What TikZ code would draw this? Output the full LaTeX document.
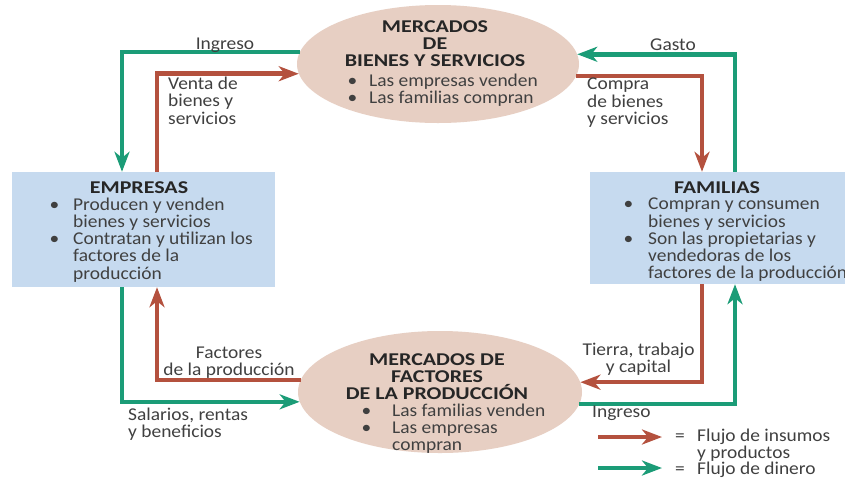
\documentclass[tikz,border=0pt]{standalone}
\usepackage{fontspec}
\setmainfont{Carlito}[FakeStretch=1.08]
\newfontfamily\headfont{Carlito}[FakeStretch=1.22]
\usetikzlibrary{arrows.meta,shapes.geometric}
\definecolor{flowgreen}{HTML}{1B9C77}
\definecolor{flowred}{HTML}{B4513E}
\definecolor{boxblue}{HTML}{C6DAEF}
\definecolor{ellbeige}{HTML}{E7CFC3}
\definecolor{txt}{HTML}{404040}
\definecolor{head}{HTML}{262626}
\newcommand{\bul}[1]{\makebox[#1][l]{\textbullet}}
\newcommand{\ind}[1]{\hspace*{#1}}
\begin{document}
\begin{tikzpicture}[x=1pt,y=-1pt,
  every node/.style={font=\fontsize{18}{17.2}\selectfont,text=txt,inner sep=0pt},
  flow/.style={line width=4.5pt},
  gflow/.style={flow,draw=flowgreen,-{Stealth[length=20pt,width=15pt,inset=6pt]}},
  rflow/.style={flow,draw=flowred,-{Stealth[length=20pt,width=15pt,inset=6pt]}},
  ell/.style={ellipse,fill=ellbeige,draw=none},
  bluebox/.style={rectangle,fill=boxblue,draw=none},
  headtxt/.style={font=\headfont\fontsize{18}{17.2}\selectfont\bfseries,text=head,align=center,anchor=north},
  listtxt/.style={align=left,anchor=north west},
  lbl/.style={align=left,anchor=north west}]
\clip (0,0) rectangle (845,483);
\fill[white] (0,0) rectangle (845,483);
% shapes
\node[ell,minimum width=282pt,minimum height=118pt] (mbs) at (438,64) {};
\node[ell,minimum width=284pt,minimum height=122pt] (mfp) at (440,392) {};
\node[bluebox,minimum width=263pt,minimum height=115pt] (emp) at (143.5,229.5) {};
\node[bluebox,minimum width=270pt,minimum height=112pt] (fam) at (725,228) {};
% coordinates of the vertical runs
\coordinate (gL) at (122,0);
\coordinate (rL) at (157,0);
\coordinate (gR) at (735,0);
\coordinate (rR) at (702,0);
% connectors
\draw[gflow] (mbs.175.46) -| (emp.north -| gL);
\draw[rflow] (emp.north -| rL) |- (mbs.184.54);
\draw[gflow] (fam.north -| gR) |- (mbs.4.54);
\draw[rflow] (mbs.355.46) -| (fam.north -| rR);
\draw[rflow] (mfp.175.9) -| (emp.south -| rL);
\draw[gflow] (emp.south -| gL) |- (mfp.184.1);
\draw[rflow] (fam.south -| rR) |- (mfp.4.1);
\draw[gflow] (mfp.355.9) -| (fam.south -| gR);
% texts in the ellipses
\node[headtxt] (mbsh) at (435,20.5) {MERCADOS\\DE\\BIENES Y SERVICIOS};
\node[listtxt] (mbsl) at (347.5,73.5) {\bul{21.5pt}Las empresas venden\\\bul{21.5pt}Las familias compran};
\node[headtxt] (mfph) at (437,353.4) {MERCADOS DE\\FACTORES\\DE LA PRODUCCIÓN};
\node[listtxt] (mfpl) at (361.5,403.5) {\bul{30.5pt}Las familias venden\\\bul{30.5pt}Las empresas\\\ind{30.5pt}compran};
% texts in the boxes
\node[headtxt] (emph) at (139,181.4) {EMPRESAS};
\node[listtxt] (empl) at (49.5,197.5) {\bul{23.5pt}Producen y venden\\\ind{23.5pt}bienes y servicios\\\bul{23.5pt}Contratan y utilizan los\\\ind{23.5pt}factores de la\\\ind{23.5pt}producción};
\node[headtxt] (famh) at (717,181.4) {FAMILIAS};
\node[listtxt] (faml) at (623.5,198) {\bul{24.5pt}Compran y consumen\\\ind{24.5pt}bienes y servicios\\\bul{24.5pt}Son las propietarias y\\\ind{24.5pt}vendedoras de los\\\ind{24.5pt}factores de la producción};
% flow labels
\node (l1) at (225,45) {Ingreso};
\node[lbl] (l2) at (168,77) {Venta de\\bienes y\\servicios};
\node (l3) at (673,45) {Gasto};
\node[lbl] (l4) at (587,78) {Compra\\de bienes\\y servicios};
\node[align=center,anchor=north] (l5) at (229,347) {Factores\\de la producción};
\node[lbl] (l6) at (128,408) {Salarios, rentas\\y beneficios};
\node[align=center,anchor=north] (l7) at (638.5,343) {Tierra, trabajo\\y capital};
\node[anchor=west] (l8) at (592,413) {Ingreso};
% legend
\coordinate (k1a) at (598,437);
\coordinate (k1b) at (662,437);
\coordinate (k2a) at (598,468);
\coordinate (k2b) at (662,468);
\draw[rflow] (k1a) -- (k1b);
\draw[gflow] (k2a) -- (k2b);
\node[lbl] (k1) at (675,428.5) {\makebox[22pt][l]{=}Flujo de insumos\\\hspace*{22pt}y productos};
\node[anchor=west] (k2) at (675,470) {\makebox[22pt][l]{=}Flujo de dinero};
\end{tikzpicture}
\end{document}
